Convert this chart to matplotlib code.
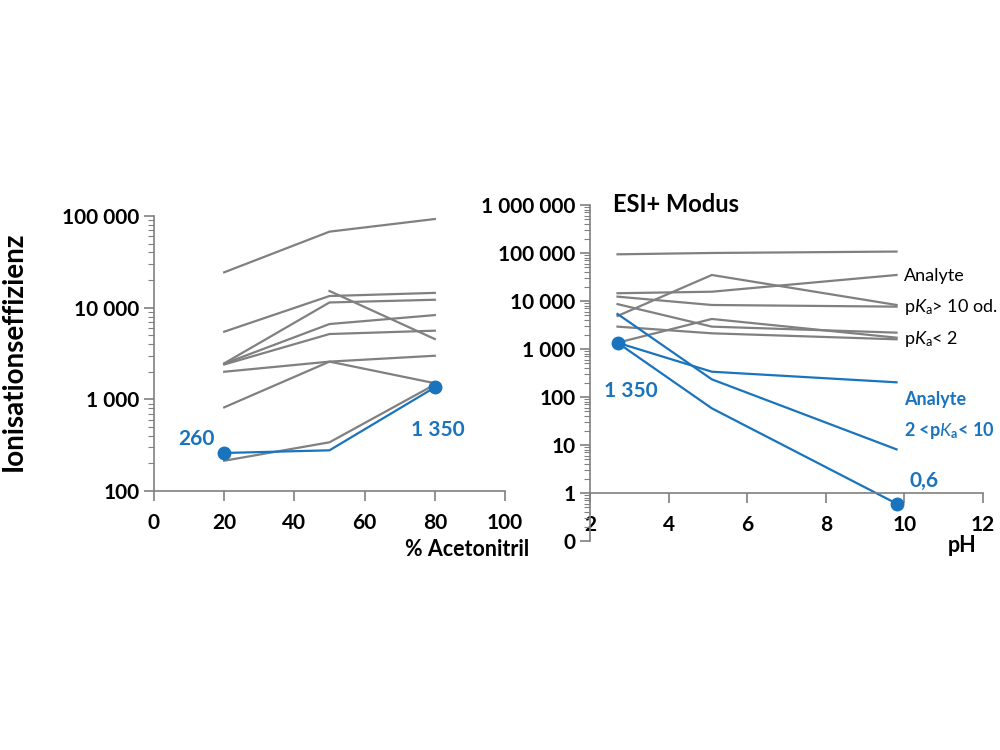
import numpy as np
import matplotlib
matplotlib.use('Agg')
import matplotlib.pyplot as plt
from matplotlib.ticker import FixedLocator, LogLocator, FuncFormatter, NullFormatter

# Left panel: ionisation efficiency vs. % acetonitrile
acn_x = [20, 50, 80]
acn_gray = [
    [24300, 67500, 92700],
    [5470, 13400, 14500],
    [2470, 11400, 12200],
    [2450, 6630, 8300],
    [2400, 5160, 5610],
    [np.nan, 15200, 4550],
    [2000, 2580, 2990],
    [818, 2580, 1500],
    [214, 340, 1450],
]
acn_blue = [260, 278, 1350]

# Right panel: ESI+ mode vs. pH
ph_x = [2.7, 5.1, 9.8]
ph_gray = [
    [93800, 100000, 107000],
    [14500, 15600, 34800],
    [4870, 34800, 8260],
    [12300, 8250, 7620],
    [8600, 2920, 2190],
    [2920, 2120, 1590],
    [1350, 4220, 1720],
]
ph_blue = [
    [5360, 233, 8.1],
    [1350, 336, 202],
    [1350, 58, 0.6],
]

GRAY = '#808080'
BLUE = '#1a74bd'
FONT = 'Lato'

plt.rcParams['font.family'] = [FONT, 'DejaVu Sans']
plt.rcParams['mathtext.fontset'] = 'custom'
plt.rcParams['mathtext.rm'] = 'Lato'
plt.rcParams['mathtext.it'] = 'Lato:italic'
plt.rcParams['mathtext.bf'] = 'Lato:bold'


def fmt(v, pos=None):
    if v < 1:
        return '0'
    return f'{v:,.0f}'.replace(',', ' ')


def style_axis(ax):
    for s in ['top', 'right']:
        ax.spines[s].set_visible(False)
    for s in ['left', 'bottom']:
        ax.spines[s].set_color(GRAY)
        ax.spines[s].set_linewidth(1.2)
    ax.tick_params(which='both', color=GRAY, labelsize=15)
    ax.tick_params(which='major', length=7, width=1.2)
    ax.tick_params(which='minor', length=4, width=0.8)
    for lab in ax.get_xticklabels() + ax.get_yticklabels():
        lab.set_fontweight('bold')
    ax.yaxis.set_minor_locator(LogLocator(base=10, subs=np.arange(2, 10)))
    ax.yaxis.set_minor_formatter(NullFormatter())
    ax.yaxis.set_major_formatter(FuncFormatter(fmt))


fig = plt.figure(figsize=(10, 7.5), dpi=100)

# ---- left panel
ax1 = fig.add_axes([0.154, 0.3453, 0.351, 0.3667])
for ys in acn_gray:
    ax1.plot(acn_x, ys, color=GRAY, lw=1.6)
ax1.plot(acn_x, acn_blue, color=BLUE, lw=1.6)
ax1.plot([acn_x[0], acn_x[-1]], [acn_blue[0], acn_blue[-1]], 'o', color=BLUE, ms=9)
ax1.set_yscale('log')
ax1.set_ylim(100, 100000)
ax1.set_xlim(0, 100)
ax1.xaxis.set_major_locator(FixedLocator([0, 20, 40, 60, 80, 100]))
ax1.yaxis.set_major_locator(FixedLocator([100, 1000, 10000, 100000]))
style_axis(ax1)
ax1.tick_params(axis='x', pad=9)
ax1.text(12, acn_blue[0] * 1.1, '260', color=BLUE, fontsize=15, fontweight='bold',
         ha='center', va='bottom')
ax1.text(81, acn_blue[-1] * 0.27, '1 350', color=BLUE, fontsize=15, fontweight='bold',
         ha='center', va='bottom')
ax1.set_ylabel('Ionisationseffizienz', fontsize=20, fontweight='bold')
ax1.yaxis.set_label_coords(-0.362, 0.51)
fig.text(0.467, 0.267, '% Acetonitril', fontsize=15.5, fontweight='bold',
         ha='center', va='center')

# ---- right panel
ax2 = fig.add_axes([0.590, 0.2787, 0.393, 0.448])
for ys in ph_gray:
    ax2.plot(ph_x, ys, color=GRAY, lw=1.6)
for ys in ph_blue:
    ax2.plot(ph_x, ys, color=BLUE, lw=1.6)
ax2.plot([ph_x[0], ph_x[-1]], [ph_blue[2][0], ph_blue[2][-1]], 'o', color=BLUE, ms=9)
ax2.set_yscale('log')
ax2.set_ylim(0.1, 1e6)
ax2.set_xlim(2, 12)
ax2.spines['bottom'].set_position(('data', 1))
ax2.xaxis.set_major_locator(FixedLocator([2, 4, 6, 8, 10, 12]))
ax2.yaxis.set_major_locator(FixedLocator([0.1, 1, 10, 100, 1000, 1e4, 1e5, 1e6]))
style_axis(ax2)
ax2.tick_params(axis='x', pad=9)
ax2.text(2.58, 1e6, 'ESI+ Modus', fontsize=17, fontweight='bold', ha='left', va='center')
ax2.text(3.05, 1350 * 0.1, '1 350', color=BLUE, fontsize=15, fontweight='bold',
         ha='center', va='center')
ax2.text(10.5, 0.6 * 3.0, '0,6', color=BLUE, fontsize=15, fontweight='bold',
         ha='center', va='center')
ax2.text(10.0, 3.3e4, 'Analyte', fontsize=13, ha='left', va='center')
ax2.text(10.0, 7.4e3, r'p$\mathit{K}_\mathrm{a}$> 10 od.', fontsize=13,
         ha='left', va='center')
ax2.text(10.0, 1.6e3, r'p$\mathit{K}_\mathrm{a}$< 2', fontsize=13, ha='left', va='center')
ax2.text(10.0, 90, 'Analyte', fontsize=13, fontweight='bold', color=BLUE,
         ha='left', va='center')
ax2.text(10.0, 20, r'2 <p$\mathbf{\mathit{K}}_\mathbf{a}$< 10', fontsize=13,
         fontweight='bold', color=BLUE, ha='left', va='center')
fig.text(0.962, 0.273, 'pH', fontsize=15.5, fontweight='bold', ha='center', va='center')

fig.savefig('out.png', dpi=100, facecolor='white')
